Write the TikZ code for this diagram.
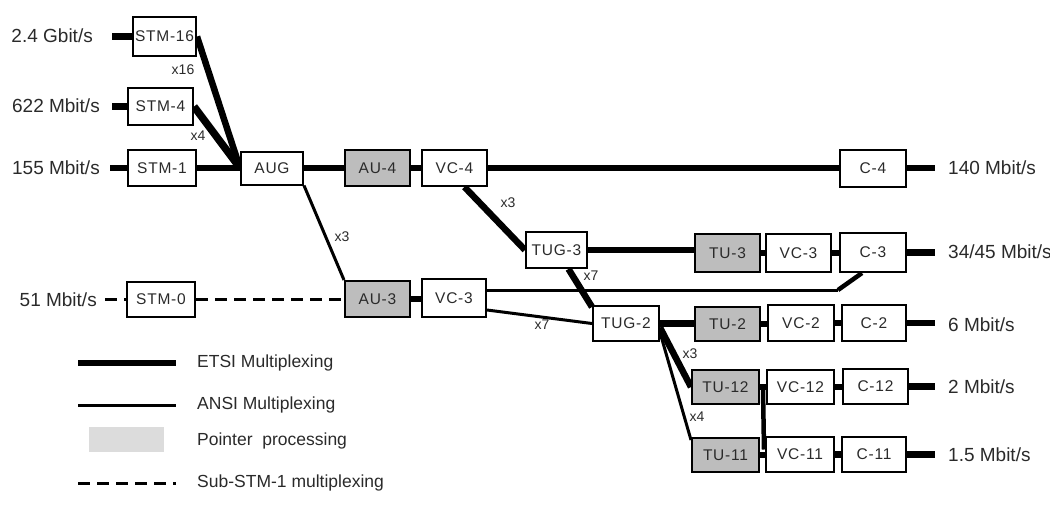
\documentclass[tikz,border=0pt]{standalone}
\usepackage{fontspec}
\setmainfont{Liberation Sans}
\newfontfamily\boxfont[LetterSpace=5]{Liberation Sans}
\usetikzlibrary{backgrounds,calc}
\definecolor{ptr}{HTML}{BDBDBD}
\definecolor{legptr}{HTML}{DCDCDC}
\definecolor{txt}{HTML}{2A2A2A}
\tikzset{
 blk/.style={draw=black, line width=2pt, fill=white, minimum width=65pt, minimum height=36pt, inner sep=0pt, font=\boxfont\fontsize{15.5}{17}\selectfont, text=txt},
 gblk/.style={blk, fill=ptr},
 rate/.style={font=\fontsize{19}{21}\selectfont, text=txt, inner sep=0pt},
 mult/.style={font=\fontsize{14}{16}\selectfont, text=txt, inner sep=0pt},
 leg/.style={font=\fontsize{17.5}{19}\selectfont, text=txt, inner sep=0pt, anchor=west},
 etsi/.style={line width=6.5pt},
 ansi/.style={line width=3pt},
 subm/.style={line width=3pt, dash pattern=on 12pt off 7pt},
}
\begin{document}
\begin{tikzpicture}[x=1pt,y=-1pt]
\useasboundingbox (0,0) rectangle (1050,512);
% boxes
\node[blk, minimum width=63pt, minimum height=39pt] (STM16) at (164.5,36.5) {STM-16};
\node[blk, minimum height=37pt] (STM4) at (160.5,106.5) {STM-4};
\node[blk, minimum width=68pt] (STM1) at (162,168) {STM-1};
\node[blk, minimum width=68pt, minimum height=35pt] (STM0) at (161,299.5) {STM-0};
\node[blk, minimum width=62pt, minimum height=33pt] (AUG) at (272,168) {AUG};
\node[gblk] (AU4) at (377.5,168) {AU-4};
\node[blk] (VC4) at (454.5,168) {VC-4};
\node[blk, minimum width=66pt, minimum height=37pt] (C4) at (873,168) {C-4};
\node[blk, minimum width=61pt] (TUG3) at (556.5,250) {TUG-3};
\node[gblk, minimum height=38pt] (TU3) at (727.5,253) {TU-3};
\node[blk, minimum height=38pt] (VC3r) at (798.5,253) {VC-3};
\node[blk, minimum width=66pt, minimum height=39pt] (C3) at (873,252.5) {C-3};
\node[gblk] (AU3) at (377.5,299) {AU-3};
\node[blk, minimum width=64pt, minimum height=38pt] (VC3l) at (454,298) {VC-3};
\node[blk, minimum width=66pt, minimum height=35pt] (TUG2) at (626,323.5) {TUG-2};
\node[gblk, minimum height=34pt] (TU2) at (727.5,324) {TU-2};
\node[blk, minimum width=66pt] (VC2) at (801,323) {VC-2};
\node[blk, minimum width=64pt] (C2) at (874,323) {C-2};
\node[gblk, minimum width=67pt, minimum height=34pt] (TU12) at (725.5,387) {TU-12};
\node[blk, minimum width=67pt, minimum height=34pt] (VC12) at (800.5,387) {VC-12};
\node[blk, minimum width=65pt, minimum height=35pt] (C12) at (875.5,386.5) {C-12};
\node[gblk, minimum width=67pt, minimum height=34pt] (TU11) at (725.5,455) {TU-11};
\node[blk, minimum width=68pt, minimum height=35pt] (VC11) at (800,454.5) {VC-11};
\node[blk, minimum width=64pt, minimum height=35pt] (C11) at (874,454.5) {C-11};
% rate labels
\node[rate, anchor=east] (r24) at (93,36) {2.4 Gbit/s};
\node[rate, anchor=east] (r622) at (100,106) {622 Mbit/s};
\node[rate, anchor=east] (r155) at (100,168) {155 Mbit/s};
\node[rate, anchor=east] (r51) at (97,300) {51 Mbit/s};
\node[rate, anchor=west] (r140) at (948,168) {140 Mbit/s};
\node[rate, anchor=west] (r34) at (948,252) {34/45 Mbit/s};
\node[rate, anchor=west] (r6) at (948,325) {6 Mbit/s};
\node[rate, anchor=west] (r2) at (948,387) {2 Mbit/s};
\node[rate, anchor=west] (r15) at (948,455) {1.5 Mbit/s};
% multiplex labels
\node[mult] (m16) at (183,70) {x16};
\node[mult] (m4a) at (198,136) {x4};
\node[mult] (m3a) at (342,237) {x3};
\node[mult] (m3b) at (508,203) {x3};
\node[mult] (m7a) at (591,276) {x7};
\node[mult] (m7b) at (542,325) {x7};
\node[mult] (m3c) at (690,354) {x3};
\node[mult] (m4b) at (697,417) {x4};
% stub coordinates
\coordinate (s16) at (112,36.5);
\coordinate (s4) at (112,106.5);
\coordinate (s1) at (110,168);
\coordinate (s0) at (105,299.5);
\coordinate (e4) at (935,168);
\coordinate (e3) at (935,252.5);
\coordinate (e2) at (935,323);
\coordinate (e12) at (935,386.5);
\coordinate (e11) at (935,454.5);
\coordinate (c3bend) at (838,290);
% legend
\coordinate (la1) at (78,363); \coordinate (lb1) at (176,363);
\coordinate (la2) at (78,405); \coordinate (lb2) at (176,405);
\coordinate (la4) at (78,483); \coordinate (lb4) at (176,483);
\node[leg] (l1) at (197,363) {ETSI Multiplexing};
\node[leg] (l2) at (197,405) {ANSI Multiplexing};
\node[fill=legptr, minimum width=75pt, minimum height=25pt, inner sep=0pt] (lbox) at (126.5,439.5) {};
\node[leg] (l3) at (197,441) {Pointer\ \ processing};
\node[leg] (l4) at (197,483) {Sub-STM-1 multiplexing};
\begin{pgfonlayer}{background}
\draw[etsi] (la1) -- (lb1);
\draw[ansi] (la2) -- (lb2);
\draw[subm] (la4) -- (lb4);
% stubs
\draw[etsi] (s16) -- (STM16.west);
\draw[etsi] (s4) -- (STM4.west);
\draw[etsi] (s1) -- (STM1.west);
\draw[subm] (s0) -- (STM0.west);
\draw[etsi] (C4.east) -- (e4);
\draw[etsi] (C3.east) -- (e3);
\draw[etsi] (C2.east) -- (e2);
\draw[etsi] (C12.east) -- (e12);
\draw[etsi] (C11.east) -- (e11);
% STM to AUG
\draw[etsi] (STM16.east) -- (AUG.west);
\draw[line width=7.5pt] (STM4.east) -- (AUG.west);
\draw[etsi] (STM1.east) -- (AUG.west);
% AU-4 chain
\draw[etsi] (AUG.east) -- (AU4.west);
\draw[etsi] (AU4.east) -- (VC4.west);
\draw[etsi] (VC4.east) -- (C4.west);
% AU-3 chain
\draw[ansi] (AUG.south east) -- (AU3.north west);
\draw[subm] (STM0.east) -- (STM0.east -| AU3.west);
\draw[etsi] (AU3.east) -- (AU3.east -| VC3l.west);
\draw[ansi] ([yshift=8pt]VC3l.east) -- (c3bend);
\draw[line width=4.5pt] (c3bend) -- ([xshift=-11pt]C3.south);
\draw[ansi] ([yshift=-12pt]VC3l.east) -- (TUG2.west);
% TUG-3
\draw[etsi] ([xshift=10pt]VC4.south) -- (TUG3.west);
\draw[etsi] (TUG3.east) -- (TUG3.east -| TU3.west);
\draw[etsi] (TU3.east) -- (TU3.east -| VC3r.west);
\draw[etsi] (VC3r.east) -- (VC3r.east -| C3.west);
\draw[etsi] ([xshift=12pt]TUG3.south) -- ([yshift=-2pt]TUG2.north west);
% TUG-2
\draw[etsi] (TUG2.east) -- (TUG2.east -| TU2.west);
\draw[etsi] (TU2.east) -- (TU2.east -| VC2.west);
\draw[etsi] (VC2.east) -- (VC2.east -| C2.west);
\draw[etsi] ([yshift=-4pt]TUG2.east) -- (TU12.west);
\draw[ansi] ([yshift=-9pt]TUG2.east) -- ([yshift=-3pt]TU11.north west);
\draw[etsi] (TU12.east) -- (TU12.east -| VC12.west);
\draw[etsi] (VC12.east) -- (VC12.east -| C12.west);
\draw[etsi] (TU11.east) -- (TU11.east -| VC11.west);
\draw[etsi] (VC11.east) -- (VC11.east -| C11.west);
\draw[line width=4.5pt] ([xshift=3pt,yshift=-2pt]TU12.east) -- ([xshift=-1pt,yshift=5pt]VC11.west);
\end{pgfonlayer}
\end{tikzpicture}
\end{document}
